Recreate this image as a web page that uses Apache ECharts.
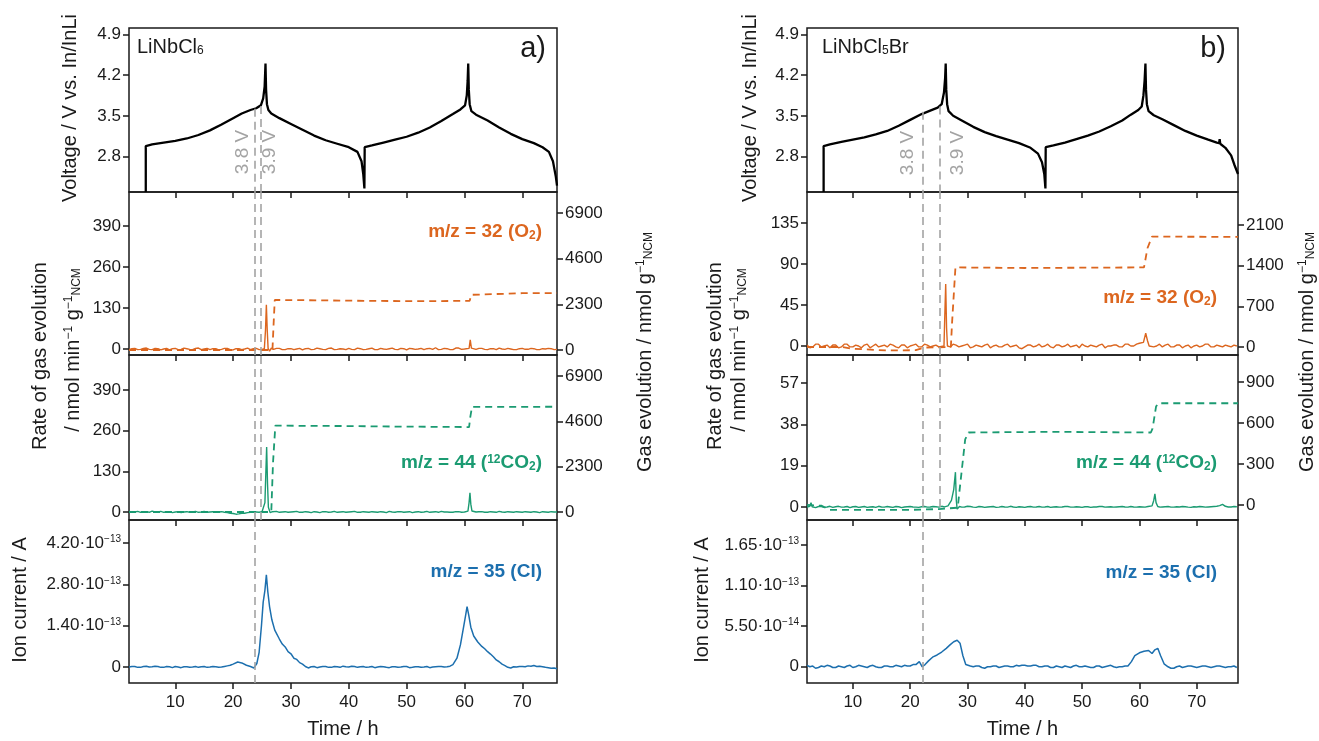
<!DOCTYPE html>
<html>
<head>
<meta charset="utf-8">
<script src="https://cdn.jsdelivr.net/npm/echarts@6/dist/echarts.min.js"></script>
<style>
html, body { margin: 0; padding: 0; background: #fff; }
#chart { width: 1319px; height: 741px; }
</style>
</head>
<body>
<div id="chart"></div>
<script>
// ---- data ---------------------------------------------------------------
const xTicks = [10, 20, 30, 40, 50, 60, 70];
const voltTicks = [2.8, 3.5, 4.2, 4.9];
const o2TicksA = [0, 130, 260, 390];
const o2CumTicksA = [0, 2300, 4600, 6900];
const co2TicksA = [0, 130, 260, 390];
const co2CumTicksA = [0, 2300, 4600, 6900];
const clTicksA = [0, 1.4e-13, 2.8e-13, 4.2e-13];
const o2TicksB = [0, 45, 90, 135];
const o2CumTicksB = [0, 700, 1400, 2100];
const co2TicksB = [0, 19, 38, 57];
const co2CumTicksB = [0, 300, 600, 900];
const clTicksB = [0, 5.5e-14, 1.1e-13, 1.65e-13];

// time (h), voltage (V)
const voltageA = [[4.9,2.19],[4.9,2.98],[6,3.01],[8,3.04],[10,3.07],[12,3.11],[14,3.17],[16,3.25],[18,3.35],[20,3.46],[21.5,3.54],[23,3.6],[24,3.63],[24.8,3.68],[25.2,3.8],[25.45,4.0],[25.6,4.4],[25.7,3.95],[25.85,3.7],[26.1,3.6],[26.6,3.54],[28,3.46],[30,3.36],[32,3.26],[34,3.16],[36,3.08],[38,3.02],[40,2.96],[41.5,2.88],[42.2,2.72],[42.5,2.5],[42.7,2.25],[42.75,2.96],[44,2.99],[46,3.04],[48,3.09],[50,3.14],[52,3.21],[54,3.3],[56,3.41],[58,3.53],[59.3,3.61],[60.1,3.68],[60.4,3.85],[60.55,4.1],[60.65,4.4],[60.75,3.95],[60.9,3.7],[61.2,3.58],[62,3.52],[64,3.42],[66,3.3],[68,3.19],[70,3.1],[72,3.03],[73.5,2.96],[74.6,2.88],[75.3,2.72],[75.8,2.45],[76,2.3]];
const voltageB = [[4.9,2.19],[4.9,2.98],[6,3.01],[8,3.05],[10,3.09],[12,3.13],[14,3.18],[16,3.24],[18,3.33],[20,3.43],[22,3.53],[23.5,3.59],[24.8,3.64],[25.5,3.7],[25.9,3.9],[26.1,4.15],[26.2,4.4],[26.3,3.95],[26.45,3.7],[26.7,3.58],[27.5,3.5],[29,3.42],[31,3.31],[33,3.22],[35,3.15],[37,3.09],[39,3.03],[41,2.95],[42.3,2.85],[43,2.7],[43.4,2.5],[43.6,2.25],[43.65,2.96],[45,2.99],[47,3.04],[49,3.1],[51,3.16],[53,3.23],[55,3.32],[57,3.42],[58.5,3.52],[59.8,3.6],[60.4,3.66],[60.7,3.85],[60.9,4.1],[61.05,4.4],[61.15,3.95],[61.3,3.7],[61.6,3.58],[62.5,3.51],[64,3.44],[66,3.34],[68,3.24],[70,3.16],[72,3.09],[73.5,3.04],[73.9,3.03],[74.0,3.1],[74.1,3.02],[75,2.95],[76,2.82],[76.6,2.65],[77.2,2.5]];

// rate of gas evolution / nmol min-1 gNCM-1
const o2RateA = [[2,-2],[2.5,1],[3,2],[3.5,-2],[4,-1],[4.5,2],[5,3],[5.5,-1],[6,-2],[6.5,2],[7,1],[7.5,-3],[8,0],[8.5,2],[9,-3],[9.5,1],[10,2],[10.5,-2],[11,-1],[11.5,3],[12,1],[12.5,-1],[13,-2],[13.5,2],[14,3],[14.5,-2],[15,0],[15.5,2],[16,-2],[16.5,1],[17,1],[17.5,-3],[18,-1],[18.5,2],[19,2],[19.5,-2],[20,-3],[20.5,1],[21,1],[21.5,-2],[22,0],[22.5,3],[23,-2],[23.5,1],[24,2],[24.5,-2],[25,-1],[25.4,1],[25.6,60],[25.75,140],[25.9,60],[26.05,2],[26.3,-7],[26.6,3],[27,-1],[27.5,2],[28,2],[28.5,-2],[29,-2],[29.5,1],[30,1],[30.5,-2],[31,0],[31.5,2],[32,-3],[32.5,1],[33,2],[33.5,-2],[34,-1],[34.5,3],[35,1],[35.5,-1],[36,-2],[36.5,2],[37,3],[37.5,-2],[38,-1],[38.5,1],[39,0],[39.5,-2],[40,2],[40.5,-1],[41,-2],[41.5,3],[42,1],[42.5,-2],[43,-1],[43.5,1],[44,3],[44.5,-2],[45,-2],[45.5,2],[46,0],[46.5,-1],[47,1],[47.5,3],[48,-1],[48.5,-2],[49,2],[49.5,1],[50,-3],[50.5,2],[51,1],[51.5,-1],[52,0],[52.5,2],[53,-2],[53.5,1],[54,2],[54.5,-1],[55,4],[55.5,-2],[56,-1],[56.5,2],[57,1],[57.5,-2],[58,-2],[58.5,3],[59,3],[59.5,-1],[60,0],[60.8,2],[61.0,29],[61.2,3],[61.5,-2],[62,-1],[62.5,2],[63,2],[63.5,-1],[64,-2],[64.5,1],[65,1],[65.5,-2],[66,3],[66.5,0],[67,-1],[67.5,2],[68,0],[68.5,-2],[69,-2],[69.5,1],[70,2],[70.5,-1],[71,-1],[71.5,2],[72,1],[72.5,-2],[73,-2],[73.5,1],[74,0],[74.5,2],[75,1],[75.5,-2],[76,-1]];
const co2RateA = [[2,2],[2.5,-1],[3,0],[3.5,2],[4,-1],[4.5,1],[5,1],[5.5,-1],[6,3],[6.5,0],[7,0],[7.5,2],[8,-1],[8.5,0],[9,1],[9.5,-2],[10,0],[10.5,1],[11,-2],[11.5,0],[12,1],[12.5,-1],[13,0],[13.5,2],[14,-1],[14.5,0],[15,2],[15.5,-1],[16,0],[16.5,1],[17,-1],[17.5,0],[18,1],[18.5,-1],[19,-2],[19.5,-4],[20,-5],[20.5,-7],[21,-6],[21.5,-4],[22,-4],[22.5,-2],[23,-1],[23.5,1],[24,0],[24.5,-1],[25,1],[25.3,2],[25.5,30],[25.65,120],[25.8,208],[25.95,90],[26.1,15],[26.4,-2],[26.8,1],[27,0],[27.5,2],[28,-1],[28.5,0],[29,1],[29.5,-1],[30,0],[30.5,1],[31,2],[31.5,-1],[32,-1],[32.5,1],[33,0],[33.5,-2],[34,1],[34.5,0],[35,-2],[35.5,1],[36,1],[36.5,-1],[37,0],[37.5,2],[38,-1],[38.5,0],[39,1],[39.5,-1],[40,0],[40.5,1],[41,2],[41.5,-1],[42,-1],[42.5,1],[43,0],[43.5,-1],[44,1],[44.5,0],[45,-1],[45.5,1],[46,0],[46.5,-2],[47,2],[47.5,0],[48,-1],[48.5,1],[49,1],[49.5,-1],[50,0],[50.5,1],[51,-2],[51.5,0],[52,1],[52.5,-1],[53,0],[53.5,2],[54,-1],[54.5,0],[55,1],[55.5,-1],[56,2],[56.5,0],[57,0],[57.5,-1],[58,-1],[58.5,1],[59,1],[59.5,-1],[60,0],[60.6,3],[60.8,30],[60.95,61],[61.1,25],[61.3,3],[61.6,-1],[62,0],[62.5,1],[63,1],[63.5,-1],[64,-1],[64.5,1],[65,0],[65.5,-1],[66,2],[66.5,0],[67,-1],[67.5,1],[68,0],[68.5,-1],[69,1],[69.5,0],[70,-1],[70.5,1],[71,0],[71.5,-1],[72,1],[72.5,0],[73,-2],[73.5,1],[74,0],[74.5,-1],[75,1],[75.5,0],[76,0]];
const o2RateB = [[2,1],[2.5,-2],[3,-1],[3.5,2],[4,2],[4.5,-1],[5,0],[5.5,1],[6,-2],[6.5,1],[7,1],[7.5,-2],[8,-1],[8.5,2],[9,2],[9.5,-1],[10,-1],[10.5,1],[11,0],[11.5,-2],[12,1],[12.5,2],[13,-2],[13.5,0],[14,2],[14.5,-1],[15,0],[15.5,1],[16,-1],[16.5,2],[17,1],[17.5,-1],[18,-2],[18.5,1],[19,1],[19.5,-2],[20,0],[20.5,1],[21,2],[21.5,-1],[22,-1],[22.5,2],[23,1],[23.5,-1],[24,0],[24.5,1],[25,-1],[25.9,0],[26.05,35],[26.2,68],[26.35,20],[26.5,0],[26.8,1],[27,-1],[27.5,2],[28,1],[28.5,-1],[29,0],[29.5,1],[30,2],[30.5,-2],[31,-1],[31.5,1],[32,0],[32.5,-1],[33,1],[33.5,2],[34,-2],[34.5,0],[35,1],[35.5,-1],[36,-1],[36.5,1],[37,2],[37.5,-1],[38,0],[38.5,1],[39,-2],[39.5,-3],[40,-1],[40.5,1],[41,1],[41.5,-1],[42,0],[42.5,2],[43,-1],[43.5,0],[44,2],[44.5,-1],[45,-2],[45.5,1],[46,1],[46.5,-1],[47,0],[47.5,2],[48,-1],[48.5,0],[49,1],[49.5,-2],[50,2],[50.5,0],[51,-1],[51.5,1],[52,0],[52.5,-1],[53,1],[53.5,2],[54,-2],[54.5,0],[55,0],[55.5,1],[56,1],[56.5,-1],[57,-1],[57.5,2],[58,2],[58.5,0],[59,0],[59.5,2],[60,3],[60.7,4],[61.1,14],[61.4,6],[61.7,0],[62,1],[62.5,-1],[63,0],[63.5,2],[64,-1],[64.5,1],[65,2],[65.5,-1],[66,-1],[66.5,1],[67,1],[67.5,-2],[68,0],[68.5,1],[69,-2],[69.5,0],[70,1],[70.5,-1],[71,0],[71.5,2],[72,2],[72.5,-1],[73,-1],[73.5,1],[74,0],[74.5,-1],[75,1],[75.5,0],[76,-1],[76.5,1],[77,0]];
const co2RateB = [[2,0],[2.5,0.3],[2.7,2],[2.9,0.1],[3.5,-0.3],[4,0.2],[4.5,0.2],[5,-0.2],[5.5,0],[6,0.3],[6.5,-0.2],[7,0.1],[7.5,0.3],[8,-0.1],[8.5,0],[9,0.2],[9.5,-0.3],[10,0.1],[10.5,0.2],[11,-0.2],[11.5,0],[12,0.2],[12.5,-0.2],[13,0],[13.5,0.1],[14,-0.2],[14.5,0.3],[15,0],[15.5,-0.1],[16,0.2],[16.5,0],[17,-0.2],[17.5,0.2],[18,0.1],[18.5,-0.3],[19,0],[19.5,0.1],[20,0.2],[20.5,0],[21,-0.1],[21.5,-0.2],[22,0.1],[22.5,0.2],[23,-0.1],[23.5,0],[24,0.2],[24.5,0.1],[25,-0.1],[25.5,0.3],[26,0],[26.6,0.5],[27.2,3],[27.6,8],[27.9,16],[28.05,3],[28.2,-1],[28.6,0.2],[29,-0.1],[29.5,0],[30,0.3],[30.5,0.2],[31,-0.1],[31.5,-0.2],[32,0.2],[32.5,0.1],[33,-0.2],[33.5,0],[34,0.1],[34.5,0.2],[35,-0.2],[35.5,-0.1],[36,0.2],[36.5,0],[37,-0.1],[37.5,0.3],[38,0],[38.5,-0.2],[39,0.1],[39.5,0],[40,-0.2],[40.5,0.1],[41,0.2],[41.5,-0.1],[42,0],[42.5,0.2],[43,-0.1],[43.5,0],[44,0.2],[44.5,-0.2],[45,0],[45.5,0.1],[46,-0.1],[46.5,0],[47,0.2],[47.5,0.2],[48,-0.1],[48.5,-0.1],[49,0.1],[49.5,0],[50,-0.2],[50.5,0.1],[51,0.1],[51.5,-0.2],[52,0],[52.5,0],[53,0.2],[53.5,0.2],[54,-0.1],[54.5,0],[55,0.1],[55.5,-0.1],[56,0],[56.5,0.1],[57,0.2],[57.5,0],[58,-0.1],[58.5,0.2],[59,0],[59.5,-0.1],[60,0.1],[60.5,0],[61,-0.1],[61.5,0.2],[62.2,0.5],[62.5,3],[62.7,6],[62.9,2],[63.2,0.2],[63.6,-0.1],[64,0],[64.5,0.1],[65,0.2],[65.5,-0.1],[66,-0.1],[66.5,0.1],[67,0],[67.5,0.2],[68,0.1],[68.5,-0.1],[69,-0.2],[69.5,0.1],[70,0],[70.5,0.2],[71,0.1],[71.5,-0.1],[72,0],[72.5,0.1],[73,0.2],[73.5,0.3],[74,0.6],[74.5,1.2],[75,0.3],[75.5,0],[76,0],[76.5,0.2],[77,0.1]];

// cumulative gas evolution / nmol gNCM-1
const o2CumA = [[2,0],[26.8,0],[27.0,1300],[27.2,2520],[35,2500],[45,2470],[55,2460],[60.9,2480],[61.2,2780],[61.5,2850],[70,2860],[76,2870]];
const co2CumA = [[2,0],[26.6,0],[26.9,2500],[27.3,4380],[40,4360],[50,4330],[60.8,4310],[61.0,4800],[61.3,5330],[76,5340]];
const o2CumB = [[2,0],[8,0],[10,-30],[16,-60],[21,-55],[22.5,-10],[27.1,0],[27.3,400],[27.9,1370],[40,1360],[50,1365],[60.8,1370],[61.4,1700],[62.2,1900],[77.2,1895]];
const co2CumB = [[2,0],[4.5,-5],[6,-36],[20,-36],[25,-30],[28.3,-20],[28.6,100],[29.6,480],[30.2,530],[45,535],[62,530],[62.3,560],[62.9,720],[63.3,744],[77.2,744]];

// ion current m/z 35, in units of 1e-13 A
const CL_UNIT = 1e-13;
const clA = [[2,0.0],[2.5,0.02],[3,0.02],[3.5,-0.01],[4,-0.01],[4.5,0.02],[5,0.03],[5.5,0.0],[6,0.01],[6.5,0.03],[7,0.02],[7.5,-0.01],[8,-0.01],[8.5,0.02],[9,0.01],[9.5,-0.02],[10,0.02],[10.5,0.0],[11,-0.02],[11.5,0.01],[12,0.01],[12.5,-0.01],[13,0.0],[13.5,0.02],[14,-0.01],[14.5,0.01],[15,0.02],[15.5,-0.01],[16,0.0],[16.5,0.02],[17,0.01],[17.5,-0.01],[18,0.0],[18.5,0.02],[19,0.04],[19.5,0.06],[20,0.1],[20.8,0.17],[21.5,0.14],[22.3,0.06],[23,0.02],[23.6,-0.03],[24.1,0.12],[24.5,0.5],[24.9,1.4],[25.2,2.2],[25.5,2.6],[25.75,3.12],[26.0,2.55],[26.3,2.05],[26.7,1.6],[27.2,1.25],[28,0.95],[28.5,0.78],[29,0.68],[29.5,0.52],[30,0.45],[30.5,0.3],[31,0.26],[31.5,0.15],[32,0.1],[32.5,0.02],[33,-0.03],[33.5,0.01],[34,0.02],[34.5,-0.02],[35,0.0],[35.5,0.02],[36,0.02],[36.5,-0.01],[37,-0.01],[37.5,0.02],[38,0.01],[38.5,-0.01],[39,0.03],[39.5,0.01],[40,0.0],[40.5,0.03],[41,0.02],[41.5,-0.01],[42,0.01],[42.5,0.02],[43,-0.01],[43.5,0.0],[44,0.02],[44.5,-0.02],[45,0.0],[45.5,0.02],[46,0.01],[46.5,-0.01],[47,-0.02],[47.5,0.01],[48,0.01],[48.5,-0.01],[49,0.0],[49.5,0.02],[50,0.02],[50.5,-0.02],[51,-0.01],[51.5,0.01],[52,0.01],[52.5,-0.01],[53,0.0],[53.5,0.02],[54,-0.02],[54.5,0.0],[55,0.01],[55.5,0.02],[56,0.02],[56.5,0.0],[57,0.01],[57.5,0.03],[58,0.08],[58.7,0.3],[59.3,0.75],[59.8,1.3],[60.2,1.75],[60.45,2.05],[60.75,1.75],[61.1,1.35],[61.6,1.05],[62.3,0.85],[63,0.7],[63.5,0.62],[64,0.52],[64.5,0.44],[65,0.35],[65.5,0.24],[66,0.18],[66.5,0.1],[67,0.05],[67.5,-0.01],[68,-0.03],[68.5,0.01],[69,0.0],[69.5,0.02],[70,0.02],[70.5,0.01],[71,0.04],[71.5,0.03],[72,0.05],[72.5,0.02],[73,0.03],[73.5,0.01],[74,-0.01],[74.5,-0.02],[75,-0.04],[75.5,-0.03],[76,-0.06]];
const clB = [[2,0.02],[2.5,0.0],[3,0.01],[3.5,-0.02],[4,-0.01],[4.5,0.01],[5,0.0],[5.5,0.02],[6,0.01],[6.5,-0.01],[7,-0.01],[7.5,0.01],[8,0.0],[8.5,-0.01],[9,0.01],[9.5,0.02],[10,-0.01],[10.5,0.0],[11,0.02],[11.5,0.01],[12,0.0],[12.5,-0.01],[13,0.01],[13.5,0.02],[14,0.0],[14.5,-0.01],[15,-0.01],[15.5,0.01],[16,0.01],[16.5,0.0],[17,0.0],[17.5,0.02],[18,0.01],[18.5,0.0],[19,0.02],[19.5,0.01],[20,0.01],[20.5,0.03],[21,0.03],[21.6,0.07],[22.1,0.0],[22.6,0.03],[23.2,0.08],[23.9,0.13],[24.7,0.16],[25.5,0.2],[26.3,0.25],[27,0.3],[27.6,0.34],[28.2,0.36],[28.7,0.32],[29.2,0.15],[29.7,0.03],[30.5,0.01],[31,0.0],[31.5,0.01],[32,0.01],[32.5,-0.01],[33,-0.02],[33.5,0.0],[34,0.0],[34.5,0.01],[35,0.01],[35.5,-0.01],[36,0.0],[36.5,0.01],[37,0.01],[37.5,0.0],[38,0.0],[38.5,0.02],[39,0.01],[39.5,0.02],[40,0.02],[40.5,0.01],[41,0.01],[41.5,0.02],[42,0.02],[42.5,0.0],[43,0.0],[43.5,0.01],[44,0.01],[44.5,-0.01],[45,-0.01],[45.5,0.01],[46,0.0],[46.5,-0.01],[47,0.01],[47.5,0.0],[48,-0.01],[48.5,0.01],[49,0.02],[49.5,0.0],[50,0.0],[50.5,0.01],[51,0.0],[51.5,-0.01],[52,-0.01],[52.5,0.01],[53,0.01],[53.5,-0.01],[54,0.0],[54.5,0.01],[55,0.02],[55.5,0.0],[56,-0.01],[56.5,0.0],[57,0.0],[57.5,0.01],[58,0.01],[58.6,0.07],[59.2,0.15],[60,0.19],[60.8,0.21],[61.6,0.22],[62.2,0.18],[62.7,0.23],[63.2,0.25],[63.7,0.15],[64.3,0.04],[65,0.0],[65.5,-0.02],[66,-0.02],[66.5,0.0],[67,0.01],[67.5,-0.01],[68,0.0],[68.5,0.01],[69,0.01],[69.5,0.0],[70,-0.01],[70.5,0.0],[71,0.01],[71.5,0.01],[72,0.0],[72.5,-0.01],[73,0.0],[73.5,0.01],[74,0.01],[74.5,0.0],[75,-0.01],[75.5,0.0],[76,0.0],[76.5,0.01],[77,-0.01]];

// marker lines at 3.8 V and 3.9 V (time, voltage where the line starts)
const markA = [[23.8, 3.62], [24.8, 3.67]];
const markB = [[22.2, 3.57], [25.1, 3.66]];

// ---- styling ------------------------------------------------------------
const FONT = '"Liberation Sans", Arial, Helvetica, sans-serif';
const INK = '#1a1a1a';
const C_O2 = '#dc661f';
const C_CO2 = '#1b9b72';
const C_CL = '#1c6fae';
const C_GREY = '#a3a3a3';

const rows = [
    {top: 28, height: 164},
    {top: 192, height: 163},
    {top: 355, height: 165},
    {top: 520, height: 163},
];
const panels = [
    {left: 129, right: 762, xMax: 76},
    {left: 807, right: 81, xMax: 77.2},
];

function sci(v) {
    if (Math.abs(v) < 1e-20) return '0';
    const parts = v.toExponential(2).split('e');
    return parts[0] + '·10{sup|' + parts[1].replace('-', '−') + '}';
}
function rich(color, weight, size) {
    return {
        sup: {fontSize: size, fontFamily: FONT, fontWeight: weight, color: color, fill: color, verticalAlign: 'top', lineHeight: 12},
        sub: {fontSize: size, fontFamily: FONT, fontWeight: weight, color: color, fill: color, verticalAlign: 'bottom', lineHeight: 12},
    };
}

const yspecs = [
    // panel a
    [
        {min: 2.19, max: 5.01, ticks: voltTicks, fmt: v => v.toFixed(1)},
        {min: -19, max: 498, ticks: o2TicksA, right: {min: -252, max: 7957, ticks: o2CumTicksA}},
        {min: -25.6, max: 502, ticks: co2TicksA, right: {min: -406, max: 7965, ticks: co2CumTicksA}},
        {min: -0.54e-13, max: 4.98e-13, ticks: clTicksA, fmt: sci},
    ],
    // panel b
    [
        {min: 2.19, max: 5.01, ticks: voltTicks, fmt: v => v.toFixed(1)},
        {min: -9.9, max: 169, ticks: o2TicksB, right: {min: -138, max: 2668, ticks: o2CumTicksB}},
        {min: -6, max: 69.9, ticks: co2TicksB, right: {min: -110, max: 1097, ticks: co2CumTicksB}},
        {min: -0.22e-13, max: 1.99e-13, ticks: clTicksB, fmt: sci},
    ],
];

const grids = [], xAxes = [], yAxes = [], series = [];
const axisRef = [[], []]; // [panel][row] -> {x, yl, yr}

function makeY(gi, pos, spec) {
    yAxes.push({
        gridIndex: gi, type: 'value', position: pos, min: spec.min, max: spec.max,
        axisLine: {show: false, onZero: false},
        splitLine: {show: false},
        axisTick: {show: true, length: 6, customValues: spec.ticks, lineStyle: {color: INK, width: 1.5}},
        axisLabel: {
            customValues: spec.ticks, formatter: spec.fmt || (v => String(v)),
            fontSize: 17, fontFamily: FONT, color: INK, margin: 8,
            rich: rich(INK, 'normal', 10)
        }
    });
    return yAxes.length - 1;
}

panels.forEach((p, pi) => {
    rows.forEach((r, ri) => {
        const gi = grids.length;
        grids.push({left: p.left, right: p.right, top: r.top, height: r.height,
            show: true, borderColor: INK, borderWidth: 1.5, backgroundColor: 'transparent'});
        const bottom = ri === 3;
        xAxes.push({
            gridIndex: gi, type: 'value', min: 2, max: p.xMax, position: 'bottom',
            axisLine: {show: false, onZero: false},
            splitLine: {show: false},
            axisTick: {show: true, length: 6, customValues: xTicks, lineStyle: {color: INK, width: 1.5}},
            axisLabel: {show: bottom, customValues: xTicks, fontSize: 17, fontFamily: FONT, color: INK, margin: 11},
            name: bottom ? 'Time / h' : '', nameLocation: 'middle', nameGap: 36,
            nameTextStyle: {fontSize: 20, fontFamily: FONT, color: INK}
        });
        const spec = yspecs[pi][ri];
        const ref = {x: xAxes.length - 1, yl: makeY(gi, 'left', spec)};
        if (spec.right) ref.yr = makeY(gi, 'right', spec.right);
        axisRef[pi][ri] = ref;
    });
});

function line(data, ref, useRight, color, width, dashed, extra) {
    return Object.assign({
        type: 'line', data: data, xAxisIndex: ref.x, yAxisIndex: useRight ? ref.yr : ref.yl,
        showSymbol: false, symbol: 'none', smooth: false, clip: true,
        lineStyle: {color: color, width: width, type: dashed ? [7, 5] : 'solid'},
        itemStyle: {color: color}, z: 3
    }, extra || {});
}
function vlines(list, full, yMin) {
    const data = list.map(m => full
        ? {xAxis: m[0]}
        : [{coord: [m[0], m[1]]}, {coord: [m[0], yMin]}]);
    return {
        silent: true, symbol: ['none', 'none'], animation: false,
        label: {show: false},
        lineStyle: {color: C_GREY, type: [8, 5], width: 1.6},
        data: data
    };
}

const sets = [
    {volt: voltageA, o2: o2RateA, o2c: o2CumA, co2: co2RateA, co2c: co2CumA, cl: clA, marks: markA},
    {volt: voltageB, o2: o2RateB, o2c: o2CumB, co2: co2RateB, co2c: co2CumB, cl: clB, marks: markB},
];
sets.forEach((s, pi) => {
    const R = axisRef[pi];
    series.push(line(s.volt, R[0], false, '#000', 2.3, false, {markLine: vlines(s.marks, false, 2.19)}));
    series.push(line(s.o2c, R[1], true, C_O2, 1.8, true));
    series.push(line(s.o2, R[1], false, C_O2, 1.4, false, {markLine: vlines(s.marks, true)}));
    series.push(line(s.co2c, R[2], true, C_CO2, 1.8, true));
    series.push(line(s.co2, R[2], false, C_CO2, 1.4, false, {markLine: vlines(s.marks, true)}));
    series.push(line(s.cl.map(p => [p[0], p[1] * CL_UNIT]), R[3], false, C_CL, 1.5, false,
        {markLine: vlines([s.marks[0]], true)}));
});

// ---- text -----------------------------------------------------------------
function txt(x, y, text, o) {
    o = o || {};
    const color = o.color || INK, weight = o.weight || 'normal', size = o.size || 20;
    return {
        type: 'text', x: x, y: y, rotation: o.rot ? Math.PI / 2 : 0, z: 100, silent: true,
        style: {
            text: text, fill: color, fontSize: size, fontFamily: FONT, fontWeight: weight,
            align: o.align || 'center', verticalAlign: 'middle',
            textAlign: o.align || 'center', textVerticalAlign: 'middle',
            rich: rich(color, weight, Math.round(size * 0.62))
        }
    };
}
const graphics = [
    // panel a
    txt(137, 47, 'LiNbCl{sub|6}', {align: 'left', size: 20}),
    txt(546, 49, 'a)', {align: 'right', size: 29}),
    txt(243, 152, '3.8 V', {rot: true, color: C_GREY, size: 19}),
    txt(270, 152, '3.9 V', {rot: true, color: C_GREY, size: 19}),
    txt(542, 232, 'm/z = 32 (O{sub|2})', {align: 'right', weight: 'bold', color: C_O2, size: 19}),
    txt(542, 463, 'm/z = 44 ({sup|12}CO{sub|2})', {align: 'right', weight: 'bold', color: C_CO2, size: 19}),
    txt(542, 572, 'm/z = 35 (Cl)', {align: 'right', weight: 'bold', color: C_CL, size: 19}),
    txt(70, 108, 'Voltage / V vs. In/InLi', {rot: true}),
    txt(40, 356, 'Rate of gas evolution', {rot: true}),
    txt(73, 350, '/ nmol min{sup|−1} g{sup|−1}{sub|NCM}', {rot: true}),
    txt(20, 600, 'Ion current / A', {rot: true}),
    txt(645, 352, 'Gas evolution / nmol g{sup|−1}{sub|NCM}', {rot: true}),
    // panel b
    txt(822, 47, 'LiNbCl{sub|5}Br', {align: 'left', size: 20}),
    txt(1226, 49, 'b)', {align: 'right', size: 29}),
    txt(908, 153, '3.8 V', {rot: true, color: C_GREY, size: 19}),
    txt(958, 153, '3.9 V', {rot: true, color: C_GREY, size: 19}),
    txt(1217, 298, 'm/z = 32 (O{sub|2})', {align: 'right', weight: 'bold', color: C_O2, size: 19}),
    txt(1217, 463, 'm/z = 44 ({sup|12}CO{sub|2})', {align: 'right', weight: 'bold', color: C_CO2, size: 19}),
    txt(1217, 573, 'm/z = 35 (Cl)', {align: 'right', weight: 'bold', color: C_CL, size: 19}),
    txt(750, 108, 'Voltage / V vs. In/InLi', {rot: true}),
    txt(715, 356, 'Rate of gas evolution', {rot: true}),
    txt(739, 350, '/ nmol min{sup|−1} g{sup|−1}{sub|NCM}', {rot: true}),
    txt(702, 600, 'Ion current / A', {rot: true}),
    txt(1307, 352, 'Gas evolution / nmol g{sup|−1}{sub|NCM}', {rot: true}),
];

const myChart = echarts.init(document.getElementById('chart'));
myChart.setOption({
    animation: false,
    backgroundColor: '#fff',
    grid: grids,
    xAxis: xAxes,
    yAxis: yAxes,
    series: series,
    graphic: graphics
});
</script>
</body>
</html>
